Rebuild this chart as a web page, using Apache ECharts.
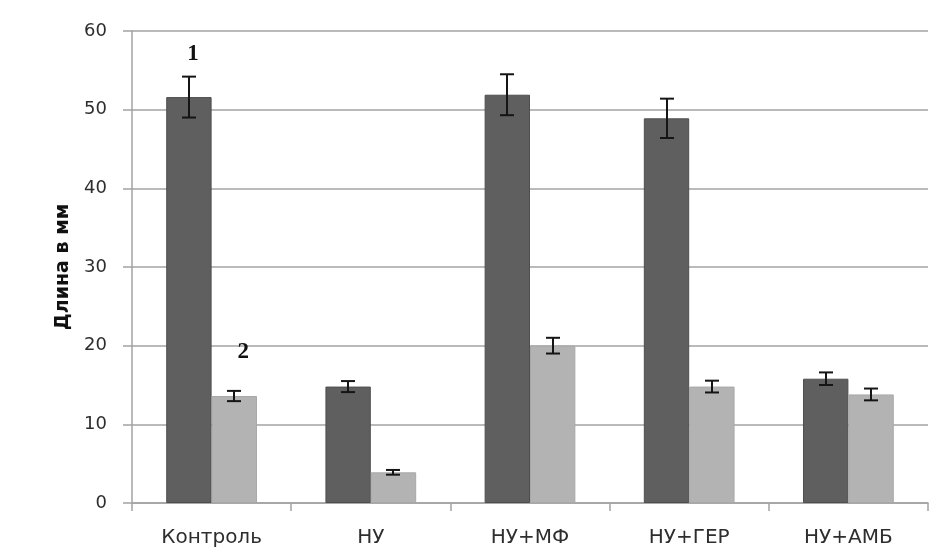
<!DOCTYPE html>
<html>
<head>
<meta charset="utf-8">
<style>
  html, body { margin: 0; padding: 0; background: #ffffff; }
  #chart { width: 945px; height: 559px; }
</style>
<script src="https://cdn.jsdelivr.net/npm/echarts@6/dist/echarts.min.js"></script>
</head>
<body>
<div id="chart"></div>
<script>
// Groups along the x axis
const categories = ['Контроль', 'НУ', 'НУ+МФ', 'НУ+ГЕР', 'НУ+АМБ'];
// Mean length, mm, for series 1 (dark) and series 2 (light)
const series1 = [51.6, 14.8, 51.9, 48.9, 15.8];
const series2 = [13.6, 3.9, 20.0, 14.8, 13.8];
// Half-width of the error bars, mm
const err1 = [2.6, 0.7, 2.6, 2.5, 0.8];
const err2 = [0.65, 0.3, 1.0, 0.75, 0.75];
// Series markers drawn above the first group
const seriesTags = ['1', '2'];
// Value axis ticks
const yTicks = [0, 10, 20, 30, 40, 50, 60];

const CAT_GAP = 0.43;
const FONT = '"DejaVu Sans", Verdana, sans-serif';
const LABEL_COLOR = '#2e2e2e';
const GRID_COLOR = '#a3a3a3';

function tagLabel(text, dx) {
  return {
    show: true,
    position: 'top',
    distance: 5,
    offset: [dx, -27],
    formatter: text,
    fontFamily: '"Liberation Serif", "Times New Roman", serif',
    fontWeight: 'bold',
    fontSize: 23,
    color: '#111111'
  };
}

function barData(values, tag, dx) {
  return values.map((v, i) => i === 0 ? { value: v, label: tagLabel(tag, dx) } : v);
}

function errorData(values, errs) {
  return values.map((v, i) => [i, v - errs[i], v + errs[i]]);
}

// Whiskers centred on one bar of a two-bar group
function whiskerRenderer(side) {
  return function (params, api) {
    const idx = api.value(0);
    const bandW = api.size([1, 0])[0];
    const barW = bandW * (1 - CAT_GAP) / 2;
    const lo = api.coord([idx, api.value(1)]);
    const hi = api.coord([idx, api.value(2)]);
    const x = Math.round(lo[0] + side * barW / 2);
    const cap = 7;
    const style = { stroke: '#151515', lineWidth: 2 };
    return {
      type: 'group',
      children: [
        { type: 'line', shape: { x1: x, y1: hi[1], x2: x, y2: lo[1] }, style: style },
        { type: 'line', shape: { x1: x - cap, y1: hi[1], x2: x + cap, y2: hi[1] }, style: style },
        { type: 'line', shape: { x1: x - cap, y1: lo[1], x2: x + cap, y2: lo[1] }, style: style }
      ]
    };
  };
}

const chart = echarts.init(document.getElementById('chart'), null, { renderer: 'canvas' });

chart.setOption({
  animation: false,
  backgroundColor: '#ffffff',
  grid: { left: 132, right: 17, top: 31, bottom: 56 },
  xAxis: {
    type: 'category',
    data: categories,
    axisLine: { show: true, lineStyle: { color: GRID_COLOR, width: 1.5 } },
    axisTick: { show: true, length: 8, lineStyle: { color: GRID_COLOR, width: 1.5 } },
    axisLabel: { margin: 25, fontFamily: FONT, fontSize: 20, color: LABEL_COLOR },
    splitLine: { show: false }
  },
  yAxis: {
    type: 'value',
    min: yTicks[0],
    max: yTicks[yTicks.length - 1],
    interval: yTicks[1] - yTicks[0],
    name: 'Длина в мм',
    nameLocation: 'middle',
    nameGap: 59,
    nameRotate: 90,
    nameTextStyle: { fontFamily: FONT, fontWeight: 'bold', fontSize: 19, color: '#111111' },
    axisLine: { show: true, lineStyle: { color: GRID_COLOR, width: 1.5 } },
    axisTick: { show: true, length: 9, lineStyle: { color: GRID_COLOR, width: 1.5 } },
    axisLabel: { margin: 25, fontFamily: FONT, fontSize: 18, color: LABEL_COLOR },
    splitLine: { show: true, lineStyle: { color: GRID_COLOR, width: 1.5 } }
  },
  series: [
    {
      name: '1',
      type: 'bar',
      data: barData(series1, seriesTags[0], 4),
      barGap: '0%',
      barCategoryGap: (CAT_GAP * 100) + '%',
      itemStyle: { color: '#5f5f5f', borderColor: '#4e4e4e', borderWidth: 1 },
      z: 2
    },
    {
      name: '2',
      type: 'bar',
      data: barData(series2, seriesTags[1], 9),
      barGap: '0%',
      barCategoryGap: (CAT_GAP * 100) + '%',
      itemStyle: { color: '#b3b3b3', borderColor: '#a8a8a8', borderWidth: 1 },
      z: 2
    },
    {
      type: 'custom',
      renderItem: whiskerRenderer(-1),
      data: errorData(series1, err1),
      encode: { x: 0, y: [1, 2] },
      z: 5,
      silent: true
    },
    {
      type: 'custom',
      renderItem: whiskerRenderer(1),
      data: errorData(series2, err2),
      encode: { x: 0, y: [1, 2] },
      z: 5,
      silent: true
    }
  ]
});
</script>
</body>
</html>
